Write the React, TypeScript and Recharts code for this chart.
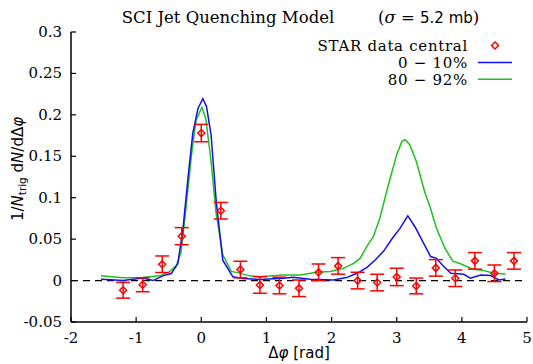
import React from 'react';
import { ComposedChart, Line, Scatter, ErrorBar, XAxis, YAxis, ReferenceLine } from 'recharts';

// STAR data central (points + y errors)
const starX = [-1.2, -0.9, -0.6, -0.3, 0, 0.3, 0.6, 0.9, 1.2, 1.5, 1.8, 2.1, 2.4, 2.7, 3.0, 3.3, 3.6, 3.9, 4.2, 4.5, 4.8];
const starY = [-0.0117, -0.005, 0.0197, 0.0536, 0.178, 0.0843, 0.0133, -0.0053, -0.006, -0.0093, 0.010, 0.0177, 0.0, -0.0024, 0.0044, -0.0065, 0.0153, 0.0028, 0.0238, 0.0088, 0.0238];
const starErr = [0.0095, 0.0085, 0.010, 0.0103, 0.0105, 0.010, 0.010, 0.010, 0.010, 0.010, 0.010, 0.010, 0.010, 0.010, 0.0105, 0.0095, 0.010, 0.010, 0.010, 0.010, 0.010];

// model curve 0-10%
const centralX = [-1.54, -1.2, -0.9, -0.74, -0.59, -0.46, -0.36, -0.28, -0.205, -0.13, -0.05, 0.025, 0.08, 0.15, 0.23, 0.33, 0.485, 0.64, 0.9, 1.26, 1.41, 1.67, 2.03, 2.23, 2.39, 2.54, 2.67, 2.8, 2.93, 3.05, 3.17, 3.28, 3.4, 3.52, 3.61, 3.7, 3.83, 4.03, 4.13, 4.29, 4.44, 4.57, 4.67];
const centralY = [0.0016, 0.0, 0.003, 0.0, 0.0057, 0.0085, 0.0205, 0.063, 0.123, 0.178, 0.208, 0.2195, 0.21, 0.176, 0.095, 0.0246, 0.0045, 0.0024, 0.0012, 0.0028, 0.004, 0.0016, 0.0008, 0.0036, 0.0088, 0.0156, 0.0248, 0.0356, 0.0508, 0.063, 0.078, 0.065, 0.047, 0.029, 0.0268, 0.0188, 0.0088, 0.0076, 0.0028, 0.0068, 0.006, 0.0008, 0.002];

// model curve 80-92%
const periphX = [-1.54, -1.2, -0.9, -0.64, -0.49, -0.38, -0.31, -0.23, -0.15, -0.08, 0.01, 0.07, 0.15, 0.225, 0.33, 0.46, 0.59, 0.74, 0.9, 1.26, 1.52, 1.77, 1.98, 2.18, 2.34, 2.44, 2.54, 2.64, 2.74, 2.87, 3.0, 3.08, 3.13, 3.2, 3.3, 3.43, 3.52, 3.61, 3.74, 3.86, 3.97, 4.16, 4.34, 4.49, 4.67];
const periphY = [0.0057, 0.0033, 0.0037, 0.0057, 0.0105, 0.0185, 0.035, 0.091, 0.152, 0.194, 0.209, 0.195, 0.144, 0.083, 0.031, 0.011, 0.009, 0.0057, 0.0045, 0.0068, 0.0068, 0.010, 0.011, 0.0148, 0.0208, 0.027, 0.041, 0.053, 0.075, 0.115, 0.152, 0.168, 0.17, 0.164, 0.144, 0.107, 0.087, 0.063, 0.039, 0.0234, 0.0206, 0.014, 0.012, 0.0088, 0.008];

const xTicks = [-2, -1, 0, 1, 2, 3, 4, 5];
const yTicks = [-0.05, 0, 0.05, 0.1, 0.15, 0.2, 0.25, 0.3];

const starData = starX.map((x, i) => ({ x, y: starY[i], e: starErr[i] }));
const centralData = centralX.map((x, i) => ({ x, y: centralY[i] }));
const periphData = periphX.map((x, i) => ({ x, y: periphY[i] }));

const SERIF = '"DejaVu Serif", serif';
const SANS = '"DejaVu Sans", sans-serif';
const RED = '#ff0000';
const BLUE = '#1010ee';
const GREEN = '#20c020';

const Diamond = (props: any) => {
  const { cx, cy } = props;
  const r = 3.5;
  return (
    <polygon
      points={`${cx},${cy - r} ${cx + r},${cy} ${cx},${cy + r} ${cx - r},${cy}`}
      fill="none"
      stroke={RED}
      strokeWidth={1.5}
    />
  );
};

const BottomTick = (props: any) => {
  const { x, y, payload } = props;
  return (
    <g>
      <line x1={x} x2={x} y1={y} y2={y - 5} stroke="#000" strokeWidth={1.2} />
      <text x={x} y={y + 21} textAnchor="middle" fontFamily={SERIF} fontSize={15} fill="#000">
        {payload.value}
      </text>
    </g>
  );
};

const LeftTick = (props: any) => {
  const { x, y, payload } = props;
  return (
    <g>
      <line x1={x} x2={x + 5} y1={y} y2={y} stroke="#000" strokeWidth={1.2} />
      <text x={x - 9} y={y + 5} textAnchor="end" fontFamily={SERIF} fontSize={15} fill="#000">
        {payload.value}
      </text>
    </g>
  );
};

const TopTick = (props: any) => {
  const { x, y } = props;
  return <line x1={x} x2={x} y1={y} y2={y + 5} stroke="#000" strokeWidth={1.2} />;
};

const RightTick = (props: any) => {
  const { x, y } = props;
  return <line x1={x} x2={x - 5} y1={y} y2={y} stroke="#000" strokeWidth={1.2} />;
};

export default function App() {
  return (
    <div style={{ position: 'absolute', left: 0, top: 0, width: 533, height: 364, background: '#fff' }}>
      <ComposedChart width={533} height={364} margin={{ top: 32, right: 6, bottom: 0, left: 0 }}>
        <XAxis
          dataKey="x"
          type="number"
          domain={[-2, 5]}
          ticks={xTicks}
          allowDataOverflow
          height={42}
          tickSize={0}
          tickMargin={0}
          axisLine={{ stroke: '#000', strokeWidth: 1.5 }}
          tickLine={false}
          tick={<BottomTick />}
        />
        <XAxis
          xAxisId="top"
          orientation="top"
          dataKey="x"
          type="number"
          domain={[-2, 5]}
          ticks={xTicks}
          allowDataOverflow
          height={0}
          tickSize={0}
          tickMargin={0}
          axisLine={{ stroke: '#000', strokeWidth: 1.5 }}
          tickLine={false}
          tick={<TopTick />}
        />
        <YAxis
          type="number"
          domain={[-0.05, 0.3]}
          ticks={yTicks}
          allowDataOverflow
          width={71}
          tickSize={0}
          tickMargin={0}
          axisLine={{ stroke: '#000', strokeWidth: 1.5 }}
          tickLine={false}
          tick={<LeftTick />}
        />
        <YAxis
          yAxisId="right"
          orientation="right"
          type="number"
          domain={[-0.05, 0.3]}
          ticks={yTicks}
          allowDataOverflow
          width={0}
          tickSize={0}
          tickMargin={0}
          axisLine={{ stroke: '#000', strokeWidth: 1.5 }}
          tickLine={false}
          tick={<RightTick />}
        />
        <ReferenceLine y={0} stroke="#000" strokeWidth={1.3} strokeDasharray="7 5" />
        <Line
          data={periphData}
          dataKey="y"
          type="linear"
          stroke={GREEN}
          strokeWidth={1.5}
          dot={false}
          isAnimationActive={false}
        />
        <Line
          data={centralData}
          dataKey="y"
          type="linear"
          stroke={BLUE}
          strokeWidth={1.5}
          dot={false}
          isAnimationActive={false}
        />
        <Scatter data={starData} dataKey="y" shape={<Diamond />} isAnimationActive={false}>
          <ErrorBar dataKey="e" direction="y" width={7} stroke={RED} strokeWidth={1.5} />
        </Scatter>
      </ComposedChart>
      <svg
        width={533}
        height={364}
        style={{ position: 'absolute', left: 0, top: 0, pointerEvents: 'none' }}
      >
        <text x={228} y={23} textAnchor="middle" fontFamily={SERIF} fontSize={16.5}>
          SCI Jet Quenching Model
        </text>
        <text x={378} y={23} fontFamily={SERIF} fontSize={16.5}>
          (<tspan fontStyle="italic">σ</tspan> = <tspan fontFamily={SANS} fontSize={15}>5.2 mb</tspan>)
        </text>
        <text x={468} y={51} textAnchor="end" fontFamily={SERIF} fontSize={15} letterSpacing={0.7}>STAR data central</text>
        <polygon points="495,42 498.5,45.5 495,49 491.5,45.5" fill="none" stroke={RED} strokeWidth={1.5} />
        <text x={468} y={68} textAnchor="end" fontFamily={SERIF} fontSize={15} letterSpacing={0.7}>0 − 10%</text>
        <line x1={478} x2={512} y1={62.5} y2={62.5} stroke={BLUE} strokeWidth={1.5} />
        <text x={468} y={85} textAnchor="end" fontFamily={SERIF} fontSize={15} letterSpacing={0.7}>80 − 92%</text>
        <line x1={478} x2={512} y1={79.3} y2={79.3} stroke={GREEN} strokeWidth={1.5} />
        <text
          transform="translate(23,169) rotate(-90)"
          textAnchor="middle"
          fontFamily={SANS}
          fontSize={15}
        >
          1/<tspan fontStyle="italic">N</tspan>
          <tspan fontSize={10.5} dy={3}>trig</tspan>
          <tspan dy={-3}> d</tspan>
          <tspan fontStyle="italic">N</tspan>/dΔ<tspan fontStyle="italic">φ</tspan>
        </text>
        <text x={299} y={358} textAnchor="middle" fontFamily={SANS} fontSize={15}>
          Δ<tspan fontStyle="italic">φ</tspan> [rad]
        </text>
      </svg>
    </div>
  );
}
